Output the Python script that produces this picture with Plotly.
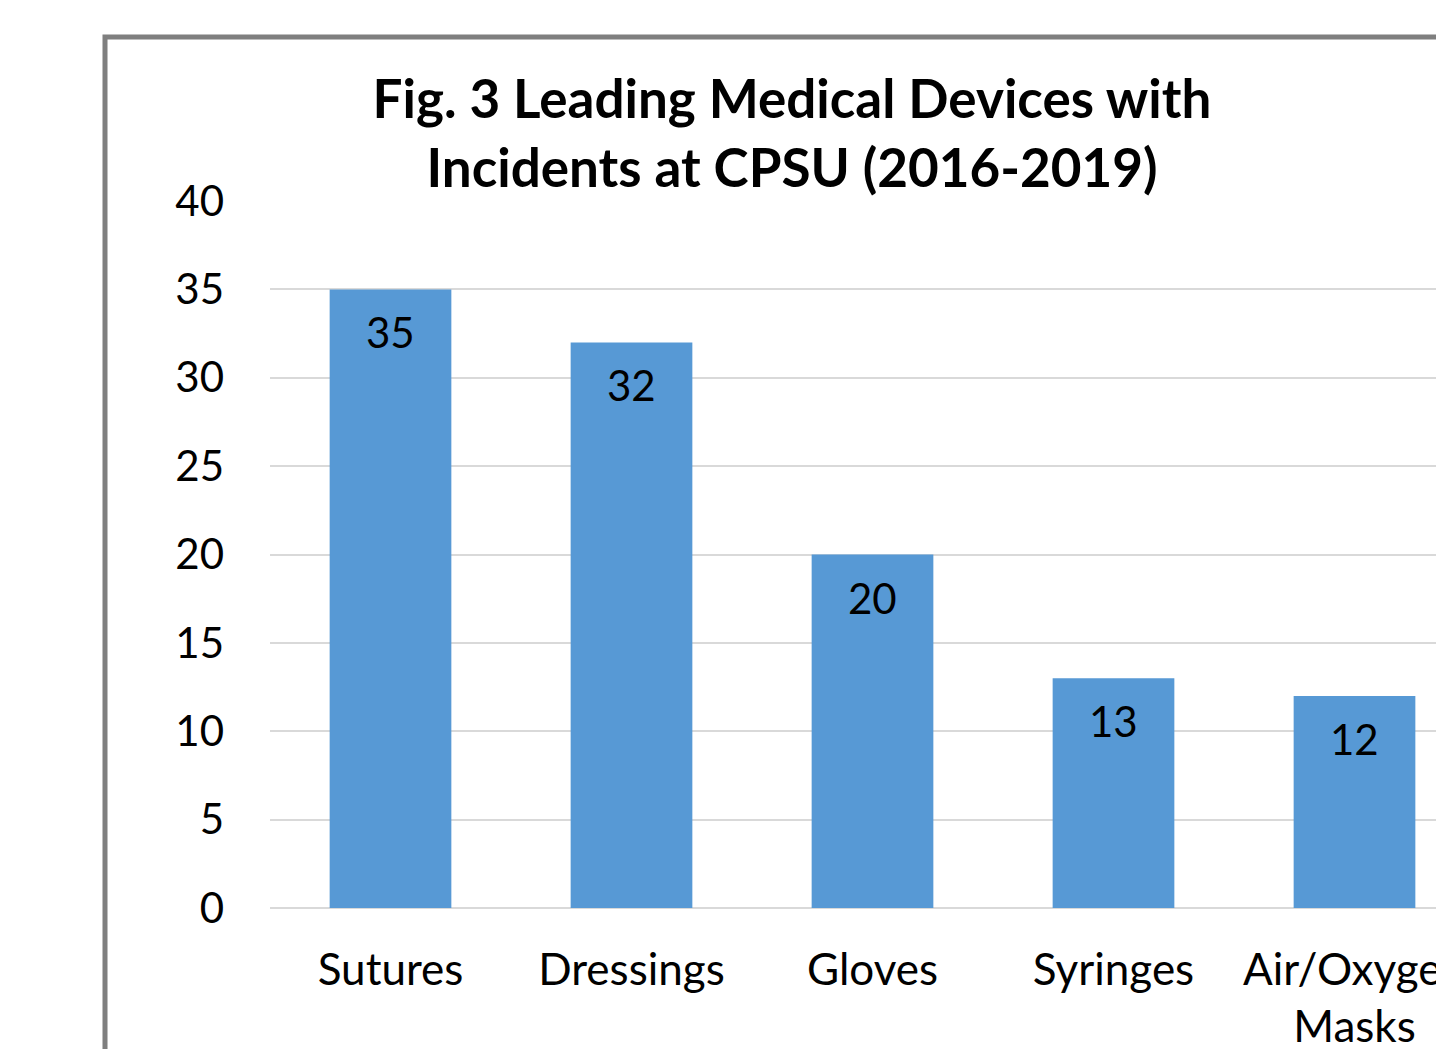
import plotly.graph_objects as go

categories = ["Sutures", "Dressings", "Gloves", "Syringes", "Air/Oxygen<br>Masks"]
values = [35, 32, 20, 13, 12]
y_ticks = [0, 5, 10, 15, 20, 25, 30, 35, 40]
title_text = "Fig. 3 Leading Medical Devices with<br>Incidents at CPSU (2016-2019)"

W, H = 1436, 1049
FONT = "Lato"

fig = go.Figure()
fig.add_trace(go.Bar(
    x=categories, y=values,
    marker=dict(color="#5799d5", line=dict(width=0)),
    width=0.505,
    hoverinfo="skip",
))

for c, v in zip(categories, values):
    fig.add_annotation(x=c, y=v, text=str(v), showarrow=False,
                       xref="x", yref="y", yanchor="top", yshift=-16,
                       font=dict(family=FONT, size=42, color="#000000"))

fig.add_shape(type="rect", xref="paper", yref="paper",
              x0=(105 - 270) / 1166, x1=1.2,
              y0=-0.4, y1=(908 - 37) / 707,
              line=dict(color="#7f7f7f", width=5), fillcolor="rgba(0,0,0,0)",
              layer="below")

fig.update_layout(
    width=W, height=H,
    margin=dict(l=270, r=0, t=201, b=141, autoexpand=False),
    paper_bgcolor="white", plot_bgcolor="white",
    showlegend=False,
    title=dict(text=title_text, xref="container", yref="container",
               x=792 / W, xanchor="center", y=1 - 118 / H, yanchor="top",
               font=dict(family=FONT, size=53, color="#000000", weight="bold")),
    font=dict(family=FONT, color="#000000"),
    xaxis=dict(range=[-0.5, -0.5 + (1436 - 270) / 241], showgrid=False,
               showline=False, ticks="", tickfont=dict(size=44, family=FONT, color="#000"),
               ticklabelstandoff=32, automargin=False, fixedrange=True),
    yaxis=dict(range=[0, 40], tickvals=y_ticks, showgrid=True,
               gridcolor="#d9d9d9", gridwidth=2, zeroline=True,
               zerolinecolor="#d9d9d9", zerolinewidth=2,
               showline=False, ticks="",
               tickfont=dict(size=42, family=FONT, color="#000"),
               ticklabelstandoff=45, automargin=False, fixedrange=True),
)

fig.write_html("out.html", config={"displayModeBar": False})
